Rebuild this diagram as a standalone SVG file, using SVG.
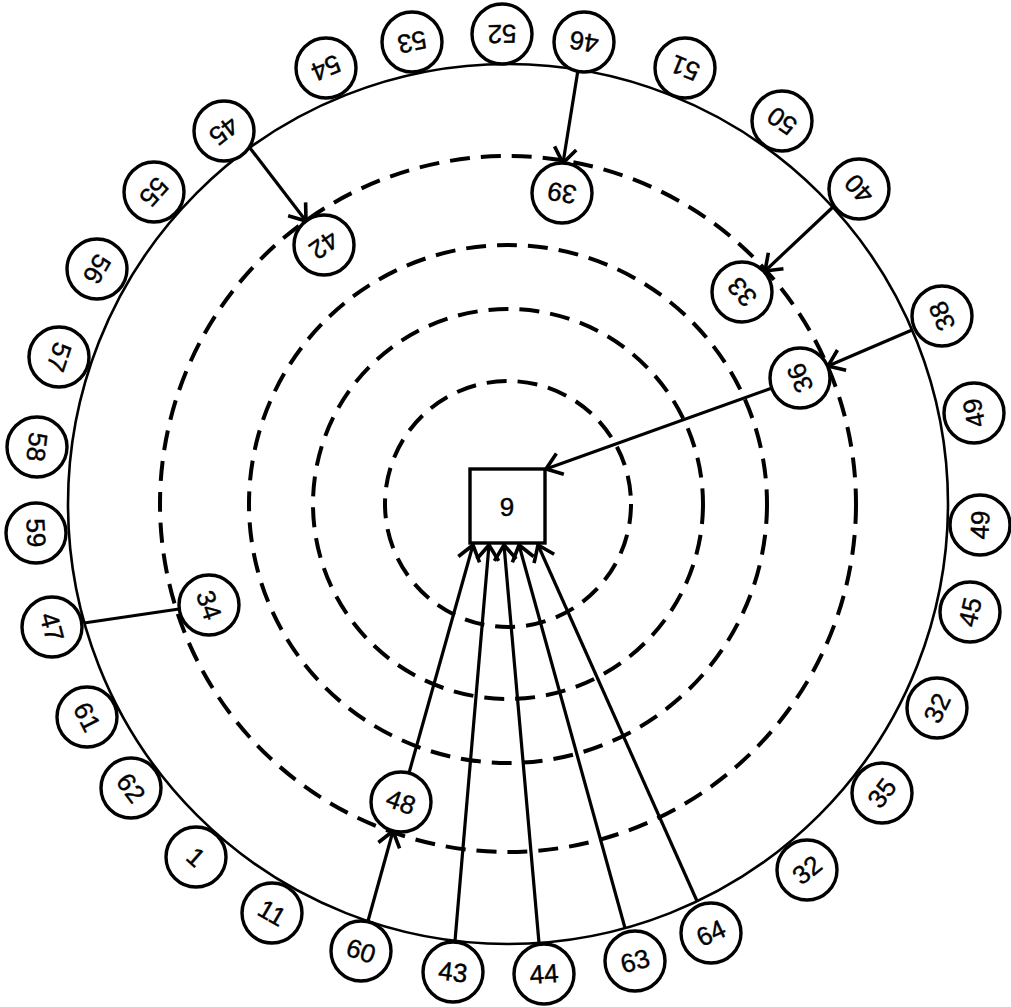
<svg xmlns="http://www.w3.org/2000/svg" width="1011" height="1007" viewBox="0 0 1011 1007">
<style>
.ring{fill:none;stroke:#000;stroke-width:2.6}
.dash{fill:none;stroke:#000;stroke-width:4;stroke-dasharray:20 11}
.node circle{fill:#fff;stroke:#000;stroke-width:3.4}
.node rect{fill:#fff;stroke:#000;stroke-width:3.4}
.node text{font-family:"Liberation Sans",Arial,sans-serif;font-size:26px;text-anchor:middle;dominant-baseline:central;fill:#000;stroke:#000;stroke-width:0.4}
.edge{fill:none;stroke:#000;stroke-width:3.2}
.arr{marker-end:url(#ah)}
</style>
<defs>
<marker id="ah" markerUnits="userSpaceOnUse" markerWidth="24" markerHeight="26" refX="18" refY="13" orient="auto">
<path d="M3,2 L18,13 L3,24" fill="none" stroke="#000" stroke-width="3.6"/>
</marker>
</defs>
<rect width="1011" height="1007" fill="#fff"/>
<g id="rings">
<circle class="ring" cx="508" cy="504" r="440"/>
<circle class="dash" cx="508" cy="504" r="348"/>
<circle class="dash" cx="508" cy="504" r="259"/>
<circle class="dash" cx="508" cy="504" r="195"/>
<circle class="dash" cx="508" cy="504" r="123"/>
</g>
<g id="connectors">
<line class="edge arr" x1="578" y1="70" x2="563" y2="163"/>
<line class="edge arr" x1="250" y1="148" x2="306" y2="221"/>
<line class="edge arr" x1="833" y1="207" x2="765" y2="271"/>
<line class="edge arr" x1="912" y1="330" x2="828" y2="366"/>
<line class="edge arr" x1="772" y1="388" x2="546" y2="469"/>
<line class="edge" x1="84" y1="623" x2="179" y2="609"/>
<line class="edge arr" x1="368" y1="921" x2="393" y2="831"/>
<line class="edge arr" x1="409" y1="773" x2="473" y2="545"/>
<line class="edge arr" x1="455" y1="941" x2="489" y2="545"/>
<line class="edge arr" x1="539" y1="943" x2="504" y2="545"/>
<line class="edge arr" x1="625" y1="928" x2="519" y2="545"/>
<line class="edge arr" x1="697" y1="901" x2="538" y2="545"/>
</g>
<g id="n9" class="node"><rect x="470" y="469" width="75" height="74"/><text x="507" y="507">9</text></g>
<g id="n52" class="node"><circle cx="502" cy="34" r="30"/><text x="502" y="34" transform="rotate(179.3 502 34)">52</text></g>
<g id="n53" class="node"><circle cx="412" cy="42" r="30"/><text x="412" y="42" transform="rotate(168.3 412 42)">53</text></g>
<g id="n54" class="node"><circle cx="326" cy="68" r="30"/><text x="326" y="68" transform="rotate(157.3 326 68)">54</text></g>
<g id="n45a" class="node"><circle cx="224" cy="131" r="30"/><text x="224" y="131" transform="rotate(142.7 224 131)">45</text></g>
<g id="n55" class="node"><circle cx="154" cy="192" r="30"/><text x="154" y="192" transform="rotate(131.4 154 192)">55</text></g>
<g id="n56" class="node"><circle cx="97" cy="269" r="30"/><text x="97" y="269" transform="rotate(119.8 97 269)">56</text></g>
<g id="n57" class="node"><circle cx="59" cy="357" r="30"/><text x="59" y="357" transform="rotate(108.1 59 357)">57</text></g>
<g id="n58" class="node"><circle cx="37" cy="447" r="30"/><text x="37" y="447" transform="rotate(96.9 37 447)">58</text></g>
<g id="n59" class="node"><circle cx="36" cy="533" r="30"/><text x="36" y="533" transform="rotate(86.5 36 533)">59</text></g>
<g id="n47" class="node"><circle cx="52" cy="627" r="30"/><text x="52" y="627" transform="rotate(74.9 52 627)">47</text></g>
<g id="n61" class="node"><circle cx="87" cy="717" r="30"/><text x="87" y="717" transform="rotate(63.2 87 717)">61</text></g>
<g id="n62" class="node"><circle cx="131" cy="788" r="30"/><text x="131" y="788" transform="rotate(53 131 788)">62</text></g>
<g id="n1" class="node"><circle cx="196" cy="857" r="30"/><text x="196" y="857" transform="rotate(41.5 196 857)">1</text></g>
<g id="n11" class="node"><circle cx="272" cy="913" r="30"/><text x="272" y="913" transform="rotate(30 272 913)">11</text></g>
<g id="n60" class="node"><circle cx="361" cy="951" r="30"/><text x="361" y="951" transform="rotate(18.2 361 951)">60</text></g>
<g id="n43" class="node"><circle cx="453" cy="972" r="30"/><text x="453" y="972" transform="rotate(6.7 453 972)">43</text></g>
<g id="n44" class="node"><circle cx="544" cy="974" r="30"/><text x="544" y="974" transform="rotate(-4.4 544 974)">44</text></g>
<g id="n63" class="node"><circle cx="635" cy="961" r="30"/><text x="635" y="961" transform="rotate(-15.5 635 961)">63</text></g>
<g id="n64" class="node"><circle cx="711" cy="933" r="30"/><text x="711" y="933" transform="rotate(-25.3 711 933)">64</text></g>
<g id="n32b" class="node"><circle cx="807" cy="870" r="30"/><text x="807" y="870" transform="rotate(-39.2 807 870)">32</text></g>
<g id="n35" class="node"><circle cx="882" cy="793" r="30"/><text x="882" y="793" transform="rotate(-52.3 882 793)">35</text></g>
<g id="n32a" class="node"><circle cx="937" cy="708" r="30"/><text x="937" y="708" transform="rotate(-64.6 937 708)">32</text></g>
<g id="n45b" class="node"><circle cx="970" cy="612" r="30"/><text x="970" y="612" transform="rotate(-76.8 970 612)">45</text></g>
<g id="n49b" class="node"><circle cx="980" cy="525" r="30"/><text x="980" y="525" transform="rotate(-87.5 980 525)">49</text></g>
<g id="n49a" class="node"><circle cx="974" cy="413" r="30"/><text x="974" y="413" transform="rotate(-101 974 413)">49</text></g>
<g id="n38" class="node"><circle cx="942" cy="316" r="30"/><text x="942" y="316" transform="rotate(-113.4 942 316)">38</text></g>
<g id="n40" class="node"><circle cx="859" cy="189" r="30"/><text x="859" y="189" transform="rotate(-131.9 859 189)">40</text></g>
<g id="n50" class="node"><circle cx="782" cy="121" r="30"/><text x="782" y="121" transform="rotate(-144.4 782 121)">50</text></g>
<g id="n51" class="node"><circle cx="685" cy="68" r="30"/><text x="685" y="68" transform="rotate(-157.9 685 68)">51</text></g>
<g id="n46" class="node"><circle cx="584" cy="42" r="30"/><text x="584" y="42" transform="rotate(-170.7 584 42)">46</text></g>
<g id="n39" class="node"><circle cx="562" cy="193" r="30"/><text x="562" y="193" transform="rotate(-170.2 562 193)">39</text></g>
<g id="n42" class="node"><circle cx="324" cy="245" r="30"/><text x="324" y="245" transform="rotate(144.6 324 245)">42</text></g>
<g id="n33" class="node"><circle cx="742" cy="292" r="30"/><text x="742" y="292" transform="rotate(-132.2 742 292)">33</text></g>
<g id="n36" class="node"><circle cx="800" cy="378" r="30"/><text x="800" y="378" transform="rotate(-113.3 800 378)">36</text></g>
<g id="n34" class="node"><circle cx="209" cy="605" r="30"/><text x="209" y="605" transform="rotate(71.3 209 605)">34</text></g>
<g id="n48" class="node"><circle cx="401" cy="802" r="30"/><text x="401" y="802" transform="rotate(19.7 401 802)">48</text></g>
</svg>
